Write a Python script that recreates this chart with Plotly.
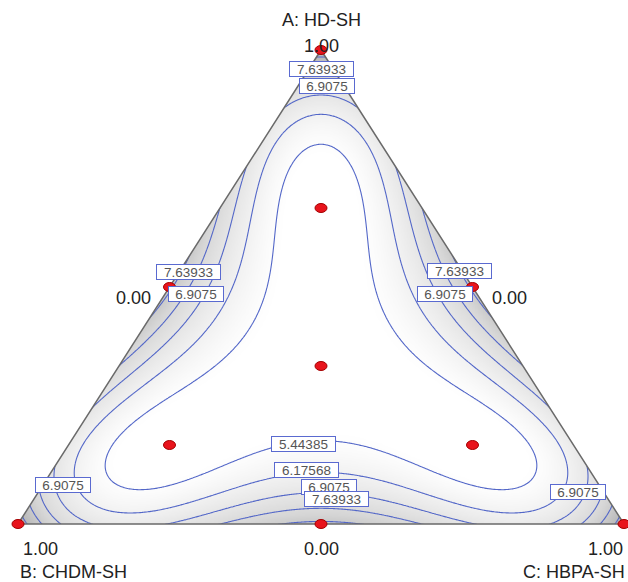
import numpy as np
import plotly.graph_objects as go

# ---------------- data ----------------
# contour levels (step between labelled contours)
level_start = 5.44385
level_step = 0.73183
label_texts = ["7.63933", "6.9075", "7.63933", "6.9075", "7.63933", "6.9075",
               "5.44385", "6.17568", "6.9075", "7.63933", "6.9075", "6.9075"]

# fitted symmetric mixture model, y = sum coef_k * basis_k(4*e2, 27*e3)
# basis: 1, u, u^2, u^3, v, u*v  (e2 = AB+AC+BC, e3 = ABC)
model_coef = [9.6283, -9.2476, 5.7222, 2.4239, -3.8327, -3.3087]

# design points (A, B, C)
pts_A = [1, 0, 0, 0.5, 0.5, 0, 1/3, 2/3, 1/6, 1/6]
pts_B = [0, 1, 0, 0.5, 0, 0.5, 1/3, 1/6, 2/3, 1/6]
pts_C = [0, 0, 1, 0, 0.5, 0.5, 1/3, 1/6, 1/6, 2/3]

# axis texts
axis_texts = ["A: HD-SH", "1.00", "0.00", "0.00", "1.00", "B: CHDM-SH", "0.00", "1.00", "C: HBPA-SH"]

# ---------------- layout helpers (pixel placement) ----------------
label_pos_px = [(321, 69), (327, 86), (188, 272), (196, 294), (459, 271), (445, 294),
                (303, 444), (306, 470), (329, 487), (336, 499), (63, 485), (578, 492)]
axis_pos_px = [(321, 20), (321, 46), (133, 298), (509, 298), (40, 549), (73, 572),
               (321, 549), (605, 549), (574, 572)]


def pix(pxx, pyy):
    return (pxx - 18) / 606, (524 - pyy) / 474


def model(a, b, c):
    e2 = a * b + a * c + b * c
    e3 = a * b * c
    u = 4 * e2
    v = 27 * e3
    k = model_coef
    return k[0] + k[1] * u + k[2] * u**2 + k[3] * u**3 + k[4] * v + k[5] * u * v


# ---------------- grid ----------------
N = 401
gx = np.linspace(-0.01, 1.01, N)
gy = np.linspace(-0.01, 1.01, N)
X, Yg = np.meshgrid(gx, gy)
A = Yg
C = X - Yg / 2
B = 1 - A - C
Z = model(A, B, C)
inside = (A >= -0.012) & (B >= -0.012) & (C >= -0.012)
Z = np.where(inside, Z, np.nan)


def to_xy(a, c):
    a = np.asarray(a, float)
    c = np.asarray(c, float)
    return c + a / 2, a


fig = go.Figure()
fig.add_trace(go.Heatmap(x=gx, y=gy, z=Z, zsmooth="best", zmin=5.3, zmax=11.0,
                         colorscale=[[0, "rgb(255,255,255)"], [0.05, "rgb(251,251,251)"],
                                     [0.45, "rgb(215,215,215)"], [1, "rgb(140,140,140)"]],
                         showscale=False, hoverinfo="skip"))
fig.add_trace(go.Contour(x=gx, y=gy, z=Z,
                         contours=dict(start=level_start, end=12, size=level_step,
                                       coloring="lines", showlabels=False),
                         colorscale=[[0, "#5367c8"], [1, "#5367c8"]],
                         line=dict(width=1.1), showscale=False, hoverinfo="skip"))
# white masks outside the triangle
fig.add_trace(go.Scatter(x=[-0.2, 0, 0.5, 0.5, -0.2], y=[0, 0, 1, 1.3, 1.3],
                         fill="toself", fillcolor="white", mode="none", hoverinfo="skip"))
fig.add_trace(go.Scatter(x=[1.2, 1, 0.5, 0.5, 1.2], y=[0, 0, 1, 1.3, 1.3],
                         fill="toself", fillcolor="white", mode="none", hoverinfo="skip"))
fig.add_trace(go.Scatter(x=[-0.2, 1.2, 1.2, -0.2], y=[0, 0, -0.3, -0.3],
                         fill="toself", fillcolor="white", mode="none", hoverinfo="skip"))
# triangle outline
fig.add_trace(go.Scatter(x=[0, 0.5, 1, 0], y=[0, 1, 0, 0], mode="lines",
                         line=dict(color="#6a6a6a", width=1.5), hoverinfo="skip"))

annotations = []
for txt, (pxx, pyy) in zip(axis_texts, axis_pos_px):
    xx, yy = pix(pxx, pyy)
    annotations.append(dict(x=xx, y=yy, xref="x", yref="y", text=txt, showarrow=False,
                            font=dict(family="Liberation Sans", size=18, color="#222")))
for txt, (pxx, pyy) in zip(label_texts, label_pos_px):
    xx, yy = pix(pxx, pyy)
    annotations.append(dict(x=xx, y=yy, xref="x", yref="y", text=txt,
                            showarrow=False, font=dict(family="Liberation Sans", size=13.5, color="#555"),
                            bgcolor="white", bordercolor="#5a6ad0", borderwidth=1, borderpad=0,
                            width=63 if len(txt) == 7 else 54, height=14))

shapes = []
px_, py_ = to_xy(pts_A, pts_C)
for xx, yy in zip(px_, py_):
    shapes.append(dict(type="circle", xref="x", yref="y", xsizemode="pixel", ysizemode="pixel",
                       xanchor=float(xx), yanchor=float(yy), x0=-6, x1=6, y0=-4.5, y1=4.5,
                       fillcolor="#e8141c", line=dict(color="#a30000", width=1)))

x0 = -18 / 606
x1 = (628 - 18) / 606
y0 = -(582 - 524) / 474
y1 = 1 + 50 / 474
fig.update_layout(width=628, height=582, margin=dict(l=0, r=0, t=0, b=0, pad=0),
                  paper_bgcolor="white", plot_bgcolor="white", showlegend=False,
                  xaxis=dict(range=[x0, x1], visible=False, fixedrange=True),
                  yaxis=dict(range=[y0, y1], visible=False, fixedrange=True),
                  shapes=shapes, annotations=annotations)
fig.write_html("out.html")
